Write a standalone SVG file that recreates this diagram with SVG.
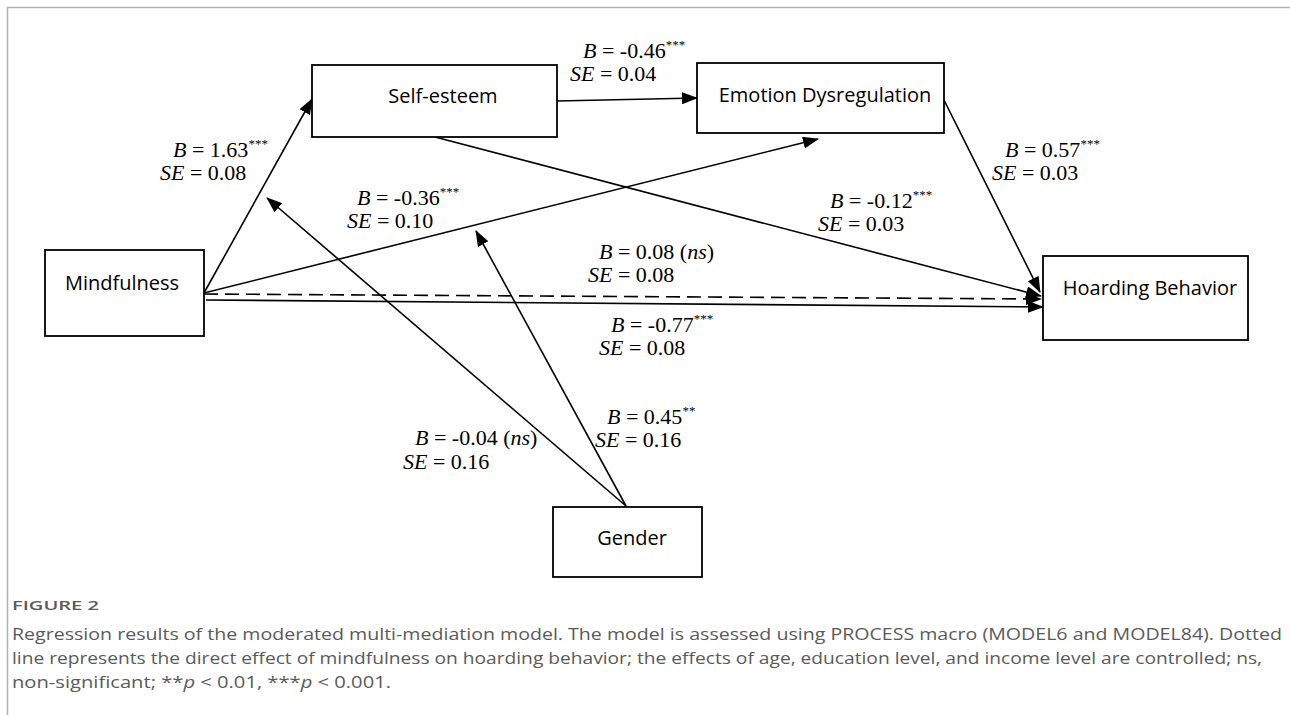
<svg xmlns="http://www.w3.org/2000/svg" width="1290" height="715" viewBox="0 0 1290 715">
<style>
.box{fill:#fff;stroke:#000;stroke-width:1.8}
.nt{font-family:"Open Sans","Noto Sans",sans-serif;font-size:20px;fill:#000}
.lb{font-family:"Liberation Serif","Times New Roman",serif;font-size:22px;fill:#000}
.it{font-style:italic}
.sup{font-size:13px}
.cn{fill:none;stroke:#000;stroke-width:1.6}
.dash{stroke-dasharray:14 7}
.cap{font-family:"Open Sans","Noto Sans",sans-serif;fill:#5a5a5a}
</style>
<defs>
<marker id="ah" markerWidth="16" markerHeight="12" refX="15" refY="6" orient="auto" markerUnits="userSpaceOnUse">
<path d="M0,0 L16,6 L0,12 Z" fill="#000"/>
</marker>
</defs>
<rect width="1290" height="715" fill="#fff"/>
<path d="M7.5,715 V7.5 H1290" fill="none" stroke="#b0b0b0" stroke-width="1.5"/>

<g id="connectors">
<line class="cn" x1="204" y1="293" x2="312" y2="99" marker-end="url(#ah)"/>
<line class="cn" x1="557" y1="101" x2="697" y2="98" marker-end="url(#ah)"/>
<line class="cn" x1="204" y1="293" x2="818" y2="139" marker-end="url(#ah)"/>
<line class="cn" x1="435" y1="137" x2="1041" y2="296" marker-end="url(#ah)"/>
<line class="cn" x1="944" y1="100" x2="1040" y2="292" marker-end="url(#ah)"/>
<line class="cn dash" x1="204" y1="294" x2="1041" y2="299" marker-end="url(#ah)"/>
<line class="cn" x1="206" y1="300" x2="1043" y2="307" marker-end="url(#ah)"/>
<line class="cn" x1="626" y1="506" x2="267" y2="198" marker-end="url(#ah)"/>
<line class="cn" x1="626" y1="506" x2="476" y2="231" marker-end="url(#ah)"/>
</g>

<g id="node-self-esteem">
<rect class="box" x="312" y="65" width="245" height="72"/>
<text class="nt" x="443" y="103" text-anchor="middle">Self-esteem</text>
</g>
<g id="node-emotion-dysregulation">
<rect class="box" x="697" y="63" width="247" height="70"/>
<text class="nt" x="825" y="102" text-anchor="middle">Emotion Dysregulation</text>
</g>
<g id="node-mindfulness">
<rect class="box" x="45" y="250" width="159" height="86"/>
<text class="nt" x="122" y="290" text-anchor="middle">Mindfulness</text>
</g>
<g id="node-hoarding-behavior">
<rect class="box" x="1043" y="256" width="205" height="84"/>
<text class="nt" x="1150" y="295" text-anchor="middle">Hoarding Behavior</text>
</g>
<g id="node-gender">
<rect class="box" x="553" y="507" width="149" height="70"/>
<text class="nt" x="632" y="545" text-anchor="middle">Gender</text>
</g>

<g id="labels">
<text class="lb" x="583" y="58"><tspan class="it">B</tspan> = -0.46<tspan class="sup" dy="-9">***</tspan><tspan x="570" y="81" class="it">SE</tspan> = 0.04</text>
<text class="lb" x="173" y="157"><tspan class="it">B</tspan> = 1.63<tspan class="sup" dy="-9">***</tspan><tspan x="160" y="180" class="it">SE</tspan> = 0.08</text>
<text class="lb" x="357" y="205"><tspan class="it">B</tspan> = -0.36<tspan class="sup" dy="-9">***</tspan><tspan x="347" y="228" class="it">SE</tspan> = 0.10</text>
<text class="lb" x="1005" y="157"><tspan class="it">B</tspan> = 0.57<tspan class="sup" dy="-9">***</tspan><tspan x="992" y="180" class="it">SE</tspan> = 0.03</text>
<text class="lb" x="830" y="208"><tspan class="it">B</tspan> = -0.12<tspan class="sup" dy="-9">***</tspan><tspan x="818" y="231" class="it">SE</tspan> = 0.03</text>
<text class="lb" x="599" y="259"><tspan class="it">B</tspan> = 0.08 (<tspan class="it">ns</tspan>)<tspan x="588" y="282" class="it">SE</tspan> = 0.08</text>
<text class="lb" x="611" y="332"><tspan class="it">B</tspan> = -0.77<tspan class="sup" dy="-9">***</tspan><tspan x="599" y="355" class="it">SE</tspan> = 0.08</text>
<text class="lb" x="607" y="424"><tspan class="it">B</tspan> = 0.45<tspan class="sup" dy="-9">**</tspan><tspan x="595" y="447" class="it">SE</tspan> = 0.16</text>
<text class="lb" x="415" y="445"><tspan class="it">B</tspan> = -0.04 (<tspan class="it">ns</tspan>)<tspan x="403" y="469" class="it">SE</tspan> = 0.16</text>
</g>

<g id="caption">
<text class="cap" x="12" y="610" font-size="13" font-weight="600" textLength="87" lengthAdjust="spacingAndGlyphs">FIGURE 2</text>
<text class="cap" x="12" y="640" font-size="17" textLength="1270" lengthAdjust="spacingAndGlyphs">Regression results of the moderated multi-mediation model. The model is assessed using PROCESS macro (MODEL6 and MODEL84). Dotted</text>
<text class="cap" x="12" y="664" font-size="17" textLength="1250" lengthAdjust="spacingAndGlyphs">line represents the direct effect of mindfulness on hoarding behavior; the effects of age, education level, and income level are controlled; ns,</text>
<text class="cap" x="12" y="688" font-size="17" textLength="379" lengthAdjust="spacingAndGlyphs">non-significant; **<tspan font-style="italic">p</tspan> &lt; 0.01, ***<tspan font-style="italic">p</tspan> &lt; 0.001.</text>
</g>
</svg>
